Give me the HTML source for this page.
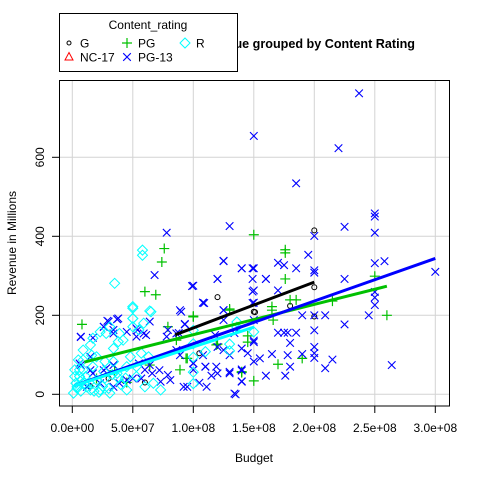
<!DOCTYPE html>
<html><head><meta charset="utf-8"><style>
body{margin:0;background:#fff}
svg{display:block;font-family:"Liberation Sans",Arial,sans-serif}
</style></head><body>
<svg id="chart" width="480" height="480" viewBox="0 0 480 480" xmlns="http://www.w3.org/2000/svg">
<rect width="480" height="480" fill="#fff"/>
<g id="grid"></g>
<g id="marks"></g>
<g id="fits"></g>
<rect x="59.5" y="80.5" width="390" height="325.5" fill="none" stroke="#000" stroke-width="1"/>
<g id="axes"></g>
<text x="415" y="48" text-anchor="end" font-size="12.6" font-weight="bold">Budget vs Revenue grouped by Content Rating</text>
<text x="254" y="462" text-anchor="middle" font-size="12">Budget</text>
<text transform="translate(16,243) rotate(-90)" text-anchor="middle" font-size="12">Revenue in Millions</text>
<g>
<rect x="59.5" y="13.5" width="178" height="58" fill="#fff" stroke="#000"/>
<text x="148" y="29" text-anchor="middle" font-size="12">Content_rating</text>
<g id="legend-items"></g>
</g>
</svg>
<script>
// data (budget in millions, revenue in millions)
const categories = ["G","NC-17","PG","PG-13","R"];
const colors = {"G":"#000","NC-17":"#ff0000","PG":"#00c000","PG-13":"#0000ff","R":"#00ffff"};
const xTicks = [0,50,100,150,200,250,300];
const xTickLabels = ["0.0e+00","5.0e+07","1.0e+08","1.5e+08","2.0e+08","2.5e+08","3.0e+08"];
const yTicks = [0,200,400,600];
const yTickLabels = ["0","200","400","600"];

const gBudget = [200,200,200,120,180,105,150,151,30,15,60];
const gRevenue = [415,271,197,246,224,104,209,208,40,20,30];

const pgBudget = [150,176,176,176,180,185,165,165,215,250,260,100,130,145,145,120,95,89,140,150,170,190,166,76,74,60,69,8,100,130,79,86,94,119,140,64,20,35,45];
const pgRevenue = [404,366,358,292,239,239,222,213,236,299,200,196,213,148,132,127,91,62,57,34,76,91,188,369,335,260,252,177,198,216,171,137,91,125,55,74,40,60,30];

const pg13Budget = [237,150,220,185,130,225,250,250,250,200,195,125,258,250,300,100,140,150,160,160,120,170,175,185,200,200,225,150,150,108,108,170,125,125,150,190,209,200,200,245,225,250,250,250,170,175,178,185,150,150,180,120,125,130,140,145,155,165,178,190,200,200,200,215,209,180,176,160,150,140,140,130,120,115,110,100,100,95,105,135,264,89,93,78,125,140,149,68,99,120,149,149,149,109,125,90,37,29,64,26,34,54,61,53,7,17,93,79,88,118,134,86,89,100,110,119,130,140,140,108,72,79,92,111,64,57,50,34,26,15,7,134,7,30,38,26,34,45,53,59,55,60,66,73,81,78,86,15,17,28,39,45,23,6,12,34];
const pg13Revenue = [762,654,623,534,426,424,458,450,409,401,353,337,337,332,310,275,319,319,292,292,292,333,327,319,314,308,292,263,232,232,232,263,213,188,188,200,200,200,162,200,177,259,245,226,156,156,156,156,136,132,130,120,112,99,116,104,91,102,99,102,120,104,92,88,66,70,47,47,83,60,32,53,53,47,70,79,62,19,29,0,74,213,178,409,338,319,319,302,274,292,292,260,231,231,213,209,190,186,184,171,163,163,150,146,145,143,177,163,155,150,155,112,99,78,70,70,57,63,33,99,61,49,19,19,74,40,40,74,61,61,74,2,146,184,192,171,154,158,167,154,78,62,53,32,36,146,154,95,53,66,28,36,28,78,19,19];

const rBudget = [58,58,35,50,50,50,64,100,100,100,100,100,110,130,130,136,136,150,50,50,65,31,23,17,15,9,16,28,39,38,34,42,6,2,4,1,10,20,37,45,53,60,67,73,23,31,45,15,6,9,17,27,34,48,57,63,53,38,27,44,20,9,5,2,55,59,3,8,12,18,25,30,22,14,40,33,26,11,4,7];
const rRevenue = [365,352,281,218,192,171,211,162,128,94,56,27,108,127,110,183,170,158,222,192,209,171,158,142,125,112,99,154,154,133,116,137,62,45,19,3,28,36,53,70,45,19,28,11,11,3,11,11,45,62,70,83,83,95,104,95,70,41,41,41,95,87,87,62,163,180,28,36,19,8,20,15,5,30,25,50,58,45,15,8];

const ncBudget = [];
const ncRevenue = [];

// regression fits
const fitGroups = ["G","PG","PG-13","R"];
const fitStart = [85,10,2,2];
const fitEnd = [200,260,300,150];
const fitIntercept = [52,74,20,20];
const fitSlope = [1.16,0.768,1.08,1.0];

const NS="http://www.w3.org/2000/svg";
function xs(b){return 72.3 + b*1.21;}
function ys(r){return 394.3 - r*0.395;}
function mk(tag, attrs, parent){const e=document.createElementNS(NS,tag);for(const k in attrs)e.setAttribute(k,attrs[k]);parent.appendChild(e);return e;}

const grid=document.getElementById('grid');
xTicks.forEach(t=>{const l=mk('line',{x1:xs(t),x2:xs(t),y1:80,y2:406,stroke:'#d3d3d3','stroke-width':1},grid);

});
yTicks.forEach(t=>{const l=mk('line',{x1:59,x2:450,y1:ys(t),y2:ys(t),stroke:'#d3d3d3','stroke-width':1},grid);

});

const axes=document.getElementById('axes');
xTicks.forEach((t,i)=>{mk('line',{x1:xs(t),x2:xs(t),y1:406,y2:413,stroke:'#000'},axes);
const tx=mk('text',{x:xs(t),y:432,'text-anchor':'middle','font-size':12},axes);tx.textContent=xTickLabels[i];

});
yTicks.forEach((t,i)=>{mk('line',{x1:52,x2:59,y1:ys(t),y2:ys(t),stroke:'#000'},axes);
const tx=mk('text',{transform:`translate(44,${ys(t)}) rotate(-90)`,'text-anchor':'middle','font-size':12},axes);tx.textContent=yTickLabels[i];

});

function drawSym(cat,x,y,parent){
  const c=colors[cat];let e;
  if(cat==='G'){e=mk('circle',{cx:x,cy:y,r:2.5,fill:'none',stroke:c,'stroke-width':1},parent);}
  else if(cat==='PG'){e=mk('path',{d:`M${x-5},${y}H${x+5}M${x},${y-5}V${y+5}`,stroke:c,'stroke-width':1.2,fill:'none'},parent);}
  else if(cat==='PG-13'){e=mk('path',{d:`M${x-3.8},${y-3.8}L${x+3.8},${y+3.8}M${x-3.8},${y+3.8}L${x+3.8},${y-3.8}`,stroke:c,'stroke-width':1.1,fill:'none'},parent);}
  else if(cat==='R'){e=mk('path',{d:`M${x},${y-5}L${x+5},${y}L${x},${y+5}L${x-5},${y}Z`,stroke:c,'stroke-width':1,fill:'none'},parent);}
  else {e=mk('path',{d:`M${x},${y-4.5}L${x+4},${y+3}L${x-4},${y+3}Z`,stroke:c,'stroke-width':1,fill:'none'},parent);}
  return e;
}
const marks=document.getElementById('marks');
const series=[["G",gBudget,gRevenue],["NC-17",ncBudget,ncRevenue],["PG",pgBudget,pgRevenue],["PG-13",pg13Budget,pg13Revenue],["R",rBudget,rRevenue]];
series.forEach(([cat,bx,ry])=>{bx.forEach((b,i)=>{const e=drawSym(cat,xs(b),ys(ry[i]),marks);

});});

const fits=document.getElementById('fits');
fitGroups.forEach((g,i)=>{const a=fitStart[i],b=fitEnd[i];
const l=mk('line',{x1:xs(a),y1:ys(fitIntercept[i]+fitSlope[i]*a),x2:xs(b),y2:ys(fitIntercept[i]+fitSlope[i]*b),stroke:colors[g],'stroke-width':3},fits);

});

const li=document.getElementById('legend-items');
const legPos=[["G",69,43],["PG",127,43],["R",185,43],["NC-17",69,57],["PG-13",127,57]];
legPos.forEach(([cat,x,y])=>{const g=mk('g',{},li);


const s=drawSym(cat,x,y,g); if(cat==='G') s.setAttribute('r',2);
const t=mk('text',{x:x+11,y:y+4.5,'font-size':12},g);t.textContent=cat;});
</script>
</body></html>
